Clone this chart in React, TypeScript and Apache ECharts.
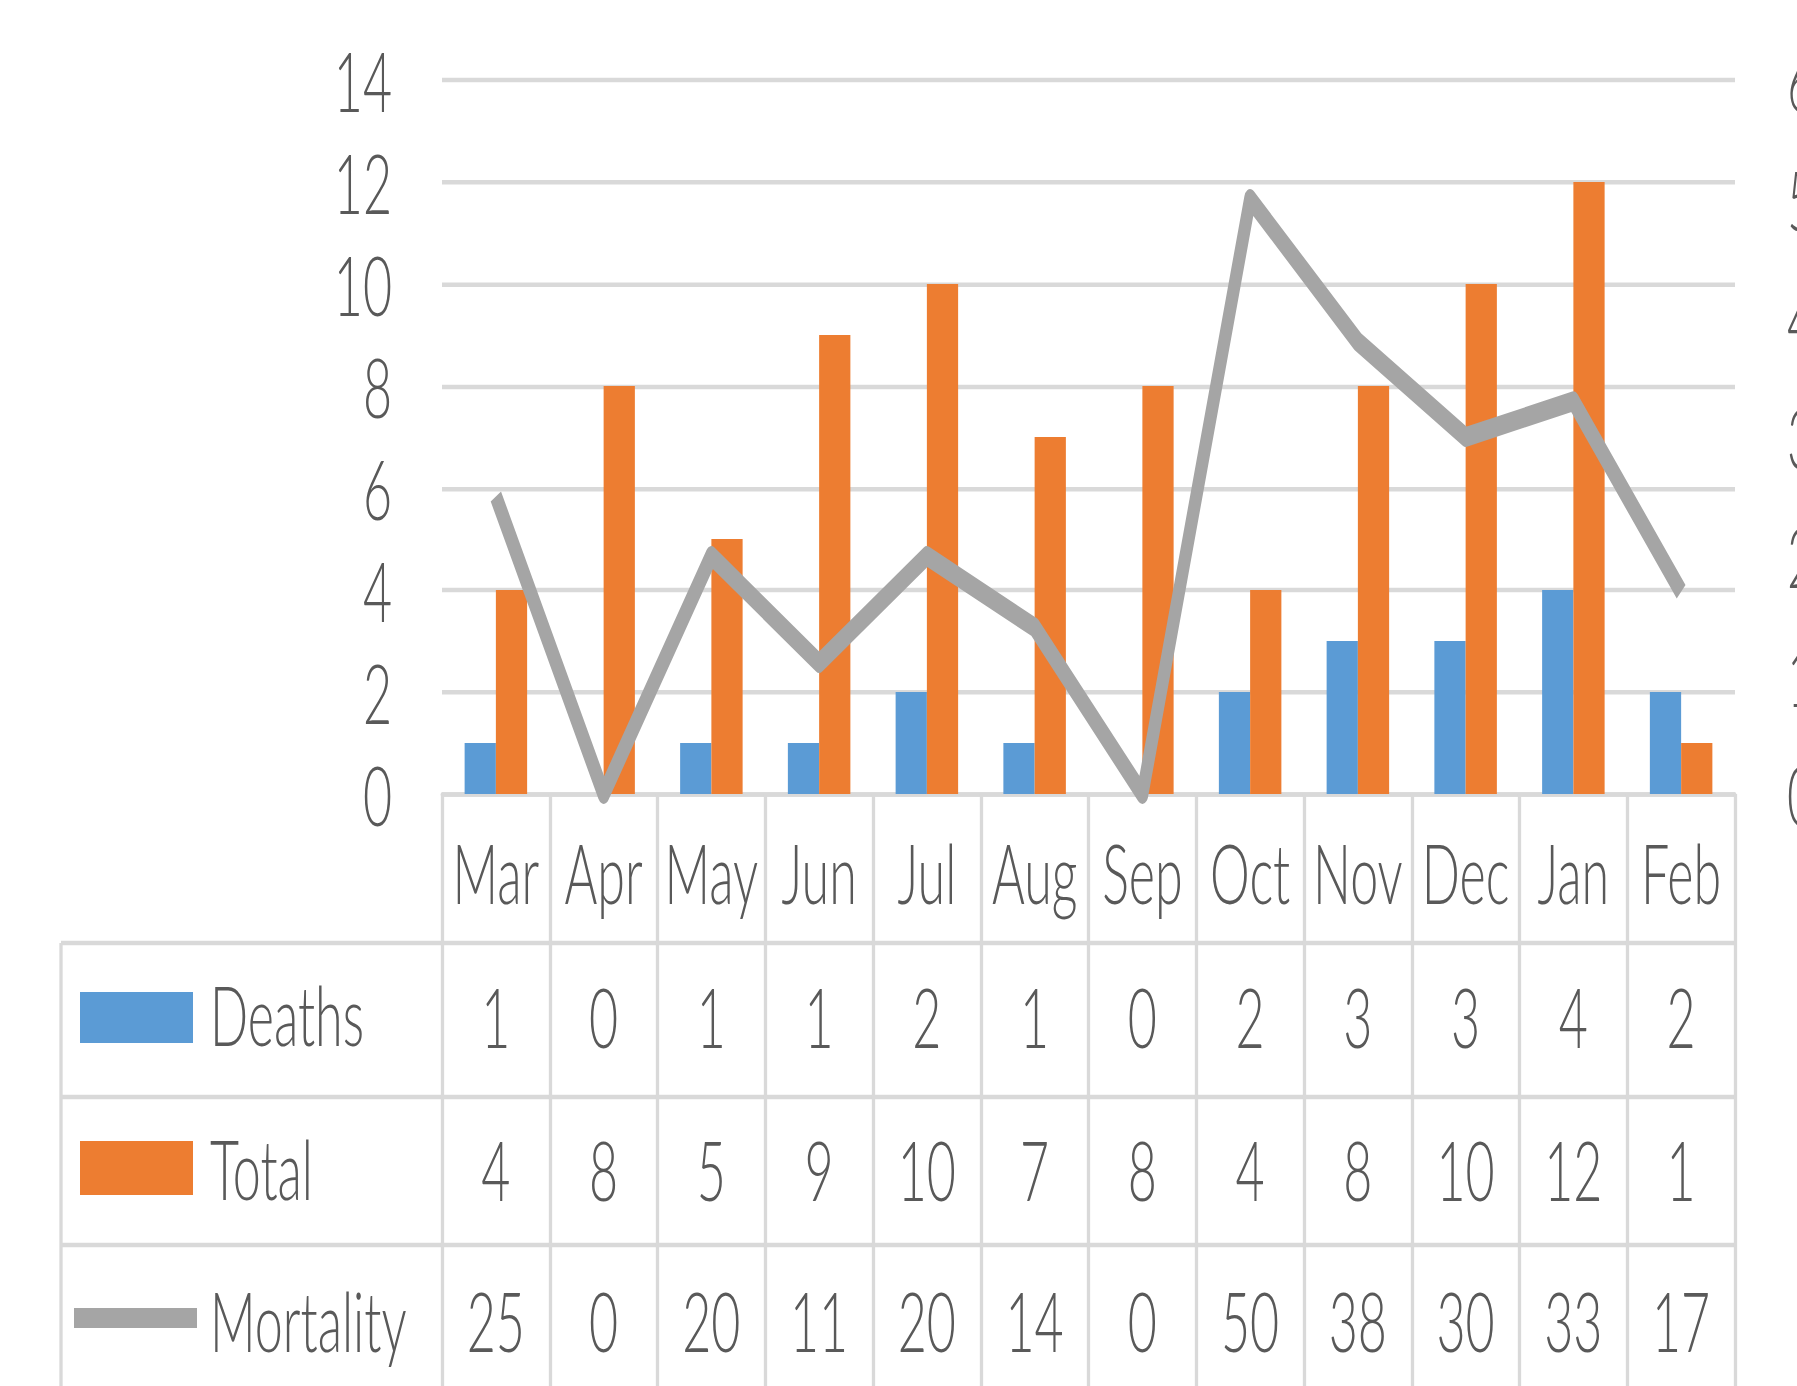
import React, { useEffect, useRef } from "react";
import * as echarts from "echarts";

const months = ["Mar", "Apr", "May", "Jun", "Jul", "Aug", "Sep", "Oct", "Nov", "Dec", "Jan", "Feb"];
const deaths = [1, 0, 1, 1, 2, 1, 0, 2, 3, 3, 4, 2];
const total = [4, 8, 5, 9, 10, 7, 8, 4, 8, 10, 12, 1];
const mortality = [25, 0, 20, 11, 20, 14, 0, 50, 38, 30, 33, 17];
const seriesNames = ["Deaths", "Total", "Mortality"];

const S = 1.65; // vertical stretch of the reference
const W = 1797;
const H = 1386 / S;
const FONT = "Lato, 'Noto Sans', sans-serif";
const TXT = "#595959";
const GRID = "#D9D9D9";
const BLUE = "#5B9BD5";
const ORANGE = "#ED7D31";
const GRAY = "#A5A5A5";

const u = (yFull: number) => yFull / S;

export default function App() {
  const ref = useRef<HTMLDivElement>(null);
  useEffect(() => {
    if (!ref.current) return;
    const chart = echarts.init(ref.current, null, { renderer: "svg" });
    const gridTop = u(80);
    const gridBottom = u(794);
    const fs = (46 * 1.8) / S;
    const label = {
      color: TXT,
      fontSize: fs,
      fontFamily: FONT,
      fontWeight: 300 as any,
    };
    const rowAxis = (data: (string | number)[], centerFull: number) => ({
      type: "category",
      gridIndex: 0,
      position: "bottom",
      offset: 0,
      data: data.map(String),
      axisLine: { show: false, onZero: false },
      axisTick: { show: false },
      splitLine: { show: false },
      axisLabel: {
        ...label,
        interval: 0,
        verticalAlign: "middle",
        margin: u(centerFull) - gridBottom,
      },
    });
    const hLine = (yFull: number, x1: number, x2: number) => ({
      type: "line",
      shape: { x1, y1: u(yFull), x2, y2: u(yFull) },
      style: { stroke: GRID, lineWidth: 4.5 / S },
      silent: true,
    });
    const legendText = (text: string, yFull: number) => ({
      type: "text",
      x: 210,
      y: u(yFull),
      style: {
        text,
        fill: TXT,
        fontSize: fs,
        fontFamily: FONT,
        fontWeight: 300,
        align: "left",
        verticalAlign: "middle",
      },
    });
    chart.setOption({
      animation: false,
      backgroundColor: "#ffffff",
      grid: {
        left: 442,
        right: W - 1735,
        top: gridTop,
        bottom: H - gridBottom,
        containLabel: false,
        outerBoundsMode: "none",
      },
      xAxis: [
        {
          type: "category",
          data: months,
          position: "bottom",
          axisLine: { show: true, onZero: false, lineStyle: { color: GRID, width: 4.5 / S } },
          axisTick: {
            show: true,
            interval: 0,
            length: H - gridBottom,
            lineStyle: { color: GRID, width: 3.3 },
          },
          axisLabel: {
            ...label,
            interval: 0,
            verticalAlign: "middle",
            margin: u(872) - gridBottom,
          },
        },
        rowAxis(deaths, 1016),
        rowAxis(total, 1169),
        rowAxis(mortality, 1320),
      ],
      yAxis: [
        {
          type: "value",
          min: 0,
          max: 14,
          interval: 2,
          axisLine: { show: false },
          axisTick: { show: false },
          splitLine: { lineStyle: { color: GRID, width: 4.5 / S } },
          axisLabel: { ...label, margin: 50 },
        },
        {
          type: "value",
          min: 0,
          max: 60,
          interval: 10,
          position: "right",
          axisLine: { show: false },
          axisTick: { show: false },
          splitLine: { show: false },
          axisLabel: { ...label, margin: 52 },
        },
      ],
      series: [
        {
          name: seriesNames[0],
          type: "bar",
          data: deaths,
          itemStyle: { color: BLUE },
          barGap: "0%",
          barCategoryGap: "42%",
        },
        {
          name: seriesNames[1],
          type: "bar",
          data: total,
          itemStyle: { color: ORANGE },
          barGap: "0%",
          barCategoryGap: "42%",
        },
        {
          name: seriesNames[2],
          type: "line",
          yAxisIndex: 1,
          data: mortality,
          symbol: "none",
          lineStyle: { color: GRAY, width: 12, cap: "butt", join: "round" },
          itemStyle: { color: GRAY },
          z: 5,
        },
      ],
      graphic: [
        hLine(943, 61, 1735),
        hLine(1097, 61, 1735),
        hLine(1245, 61, 1735),
        {
          type: "line",
          shape: { x1: 61, y1: u(943), x2: 61, y2: H },
          style: { stroke: GRID, lineWidth: 3.3 },
          silent: true,
        },
        {
          type: "rect",
          shape: { x: 80, y: u(992), width: 113, height: u(1043) - u(992) },
          style: { fill: BLUE },
        },
        {
          type: "rect",
          shape: { x: 80, y: u(1141), width: 113, height: u(1195) - u(1141) },
          style: { fill: ORANGE },
        },
        {
          type: "line",
          shape: { x1: 74, y1: u(1318), x2: 197, y2: u(1318) },
          style: { stroke: GRAY, lineWidth: 20 / S, lineCap: "butt" },
        },
        legendText(seriesNames[0], 1014),
        legendText(seriesNames[1], 1168),
        legendText(seriesNames[2], 1320),
      ],
    });
    return () => chart.dispose();
  }, []);
  return (
    <div
      style={{
        position: "absolute",
        left: 0,
        top: 0,
        width: W,
        height: 1386,
        overflow: "hidden",
        background: "#fff",
      }}
    >
      <div
        ref={ref}
        style={{
          width: W,
          height: H,
          transform: `scaleY(${S})`,
          transformOrigin: "0 0",
        }}
      />
    </div>
  );
}
